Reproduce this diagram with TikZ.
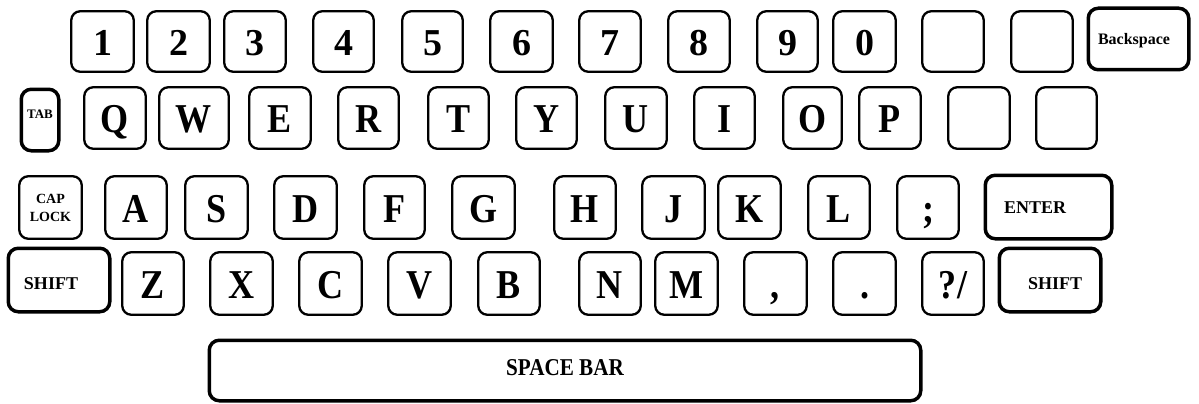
\documentclass[tikz,border=0pt]{standalone}
\usepackage{fontspec}
\usepackage{graphicx}
\setmainfont{Liberation Serif}
\tikzset{
  keyb/.style={draw=black, line width=2.3pt, rounded corners=9pt, inner sep=0pt,
    font=\fontsize{38}{38}\selectfont\bfseries, text height=29pt, text depth=0pt},
  letterkey/.style={font=\fontsize{41}{41}\selectfont\bfseries},
  thickkey/.style={line width=3.5pt, rounded corners=10pt},
  smalltxt/.style={font=\fontsize{18}{18}\selectfont\bfseries, text height=18pt, text depth=0pt},
}
\newcommand\narrow[1]{\scalebox{0.88}[1]{#1}}
\newcommand\mykey[7][]{%
  \pgfmathsetmacro\kcx{(#3+#5)/2}%
  \pgfmathsetmacro\kcy{(#4+#6)/2}%
  \pgfmathsetmacro\kw{#5-#3-2.5}%
  \pgfmathsetmacro\kh{#6-#4-2.5}%
  \node[keyb,minimum width=\kw pt,minimum height=\kh pt,#1] (#2) at (\kcx,\kcy) {#7};%
}
\newcommand\lkey[6]{\mykey[letterkey]{#1}{#2}{#3}{#4}{#5}{\narrow{#6}}}
\begin{document}
\begin{tikzpicture}[x=1pt,y=-1pt]
\useasboundingbox (0,0) rectangle (1199,404);
% row 1
\mykey{k1}{70}{10}{135}{73}{1}
\mykey{k2}{146}{10}{211}{73}{2}
\mykey{k3}{223}{10}{287}{73}{3}
\mykey{k4}{312}{10}{375}{73}{4}
\mykey{k5}{401}{10}{464}{73}{5}
\mykey{k6}{489}{10}{554}{73}{6}
\mykey{k7}{578}{10}{642}{73}{7}
\mykey{k8}{667}{10}{731}{73}{8}
\mykey{k9}{756}{10}{819}{73}{9}
\mykey{k0}{832}{10}{897}{73}{0}
\mykey{kb1}{921}{10}{985}{73}{}
\mykey{kb2}{1010}{10}{1074}{73}{}
\mykey[thickkey,font=\fontsize{16}{16}\selectfont\bfseries,text height=12pt]{kback}{1087}{7}{1190}{71}{Backspace\hspace{9pt}\mbox{}}
% row 2
\mykey[thickkey,font=\fontsize{13}{13}\selectfont\bfseries,text height=2pt,text depth=6pt]{ktab}{20}{88}{60}{152}{TAB}
\lkey{kq}{83}{86}{147}{150}{Q}
\lkey{kw}{158}{86}{230}{150}{W}
\lkey{ke}{248}{86}{312}{150}{E}
\lkey{kr}{337}{86}{400}{150}{R}
\lkey{kt}{427}{86}{490}{150}{T}
\lkey{ky}{515}{86}{578}{150}{Y}
\lkey{ku}{604}{86}{668}{150}{U}
\lkey{ki}{693}{86}{756}{150}{I}
\lkey{ko}{782}{86}{843}{150}{O}
\lkey{kp}{858}{86}{922}{150}{P}
\mykey{kb3}{947}{86}{1011}{150}{}
\mykey{kb4}{1035}{86}{1098}{150}{}
% row 3
\mykey[font=\fontsize{14}{18}\selectfont\bfseries,align=center,text height=,text depth=]{kcap}{18}{175}{83}{240}{CAP\\LOCK}
\lkey{ka}{104}{175}{168}{240}{A}
\lkey{ks}{184}{175}{249}{240}{S}
\lkey{kd}{273}{175}{338}{240}{D}
\lkey{kf}{363}{175}{426}{240}{F}
\lkey{kg}{451}{175}{516}{240}{G}
\lkey{kh}{553}{175}{617}{240}{H}
\lkey{kj}{641}{175}{706}{240}{J}
\lkey{kk}{717}{175}{782}{240}{K}
\lkey{kl}{807}{175}{871}{240}{L}
\lkey{ksemi}{896}{175}{960}{240}{;}
\mykey[thickkey,smalltxt,text height=12pt]{kenter}{984}{174}{1113}{240}{ENTER\hspace{27pt}\mbox{}}
% row 4
\mykey[thickkey,smalltxt]{klshift}{7}{247}{111}{313}{SHIFT\hspace{16pt}\mbox{}}
\lkey{kz}{121}{251}{185}{316}{Z}
\lkey{kx}{209}{251}{274}{316}{X}
\lkey{kc}{298}{251}{363}{316}{C}
\lkey{kv}{387}{251}{452}{316}{V}
\lkey{kbb}{477}{251}{541}{316}{B}
\lkey{kn}{578}{251}{642}{316}{N}
\lkey{km}{654}{251}{719}{316}{M}
\lkey{kcomma}{743}{251}{808}{316}{,}
\lkey{kdot}{832}{251}{897}{316}{.}
\lkey{kq2}{921}{251}{985}{316}{?/}
\mykey[thickkey,smalltxt]{krshift}{998}{247}{1102}{313}{\mbox{}\hspace{10pt}SHIFT}
% space bar
\mykey[thickkey,font=\fontsize{23}{23}\selectfont\bfseries,text height=9pt]{kspace}{208}{339}{922}{402}{\scalebox{0.92}[1.05]{SPACE BAR}}
\end{tikzpicture}
\end{document}
